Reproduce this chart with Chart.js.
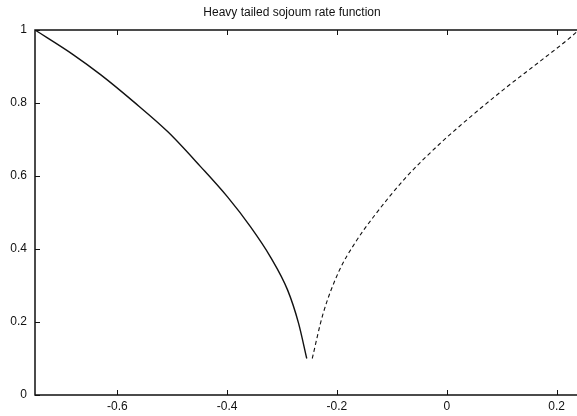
<!DOCTYPE html>
<html>
<head>
<meta charset="utf-8">
<script src="https://cdn.jsdelivr.net/npm/chart.js@4/dist/chart.umd.min.js"></script>
<style>
  html, body { margin: 0; padding: 0; background: #fff; overflow: hidden; }
  #wrap { width: 620px; height: 416px; }
</style>
</head>
<body>
<div id="wrap"><canvas id="chart" width="620" height="416"></canvas></div>
<script>
// ---- data ----
const titleText = "Heavy tailed sojoum rate function";

// left branch (solid)
const solidX = [-0.75, -0.68, -0.63, -0.57, -0.508, -0.448, -0.399, -0.357, -0.321, -0.290, -0.270, -0.255];
const solidY = [1.0, 0.932, 0.877, 0.803, 0.721, 0.625, 0.542, 0.460, 0.378, 0.288, 0.197, 0.10];

// right branch (dashed)
const dashedX = [-0.245, -0.226, -0.197, -0.166, -0.135, -0.075, -0.015, 0.047, 0.107, 0.168, 0.230, 0.240];
const dashedY = [0.10, 0.219, 0.337, 0.419, 0.485, 0.595, 0.685, 0.767, 0.841, 0.912, 0.986, 1.0];

const xTickValues = [-0.6, -0.4, -0.2, 0, 0.2];
const yTickValues = [0, 0.2, 0.4, 0.6, 0.8, 1];

const toXY = (xs, ys) => xs.map((x, i) => ({ x: x, y: ys[i] }));

// gnuplot style frame: border + inward tick marks
const framePlugin = {
  id: "frame",
  afterDatasetsDraw(chart) {
    const { ctx, chartArea: a, scales } = chart;
    ctx.save();
    ctx.strokeStyle = "#111";
    ctx.lineWidth = 1.5;
    ctx.beginPath();
    ctx.moveTo(a.right, a.top);
    ctx.lineTo(a.left, a.top);
    ctx.lineTo(a.left, a.bottom);
    ctx.lineTo(a.right, a.bottom);
    ctx.stroke();

    ctx.lineWidth = 1;
    ctx.beginPath();
    xTickValues.forEach((v) => {
      const px = Math.round(scales.x.getPixelForValue(v)) + 0.5;
      ctx.moveTo(px, a.bottom);
      ctx.lineTo(px, a.bottom - 5);
      ctx.moveTo(px, a.top);
      ctx.lineTo(px, a.top + 5);
    });
    yTickValues.forEach((v) => {
      const py = Math.round(scales.y.getPixelForValue(v)) + 0.5;
      ctx.moveTo(a.left, py);
      ctx.lineTo(a.left + 5, py);
    });
    ctx.stroke();
    ctx.restore();
  }
};

const font = { family: "'Liberation Sans', Arial, sans-serif", size: 12 };

new Chart(document.getElementById("chart"), {
  type: "line",
  data: {
    datasets: [
      {
        data: toXY(solidX, solidY),
        borderColor: "#111",
        borderWidth: 1.4,
        pointRadius: 0,
        cubicInterpolationMode: "monotone"
      },
      {
        data: toXY(dashedX, dashedY),
        borderColor: "#111",
        borderWidth: 1.1,
        borderDash: [4, 3],
        pointRadius: 0,
        cubicInterpolationMode: "monotone"
      }
    ]
  },
  options: {
    responsive: false,
    animation: false,
    layout: { padding: { left: 0, right: 36, top: 0, bottom: 0 } },
    plugins: {
      legend: { display: false },
      tooltip: { enabled: false },
      title: {
        display: true,
        text: titleText,
        color: "#111",
        font: { ...font, weight: "normal" },
        padding: { top: 5, bottom: 10.6 }
      }
    },
    scales: {
      x: {
        type: "linear",
        min: -0.75,
        max: 0.25,
        afterBuildTicks: (s) => { s.ticks = xTickValues.map((v) => ({ value: v })); },
        afterFit: (s) => { s.height = 21; },
        grid: { display: false, drawTicks: false },
        border: { display: false },
        ticks: { color: "#111", font: font, padding: 4, maxRotation: 0, callback: (v) => String(v) }
      },
      y: {
        min: 0,
        max: 1,
        afterBuildTicks: (s) => { s.ticks = yTickValues.map((v) => ({ value: v })); },
        afterFit: (s) => { s.width = 35; },
        grid: { display: false, drawTicks: false },
        border: { display: false },
        ticks: { color: "#111", font: font, padding: 8, callback: (v) => String(v) }
      }
    }
  },
  plugins: [framePlugin]
});
</script>
</body>
</html>
